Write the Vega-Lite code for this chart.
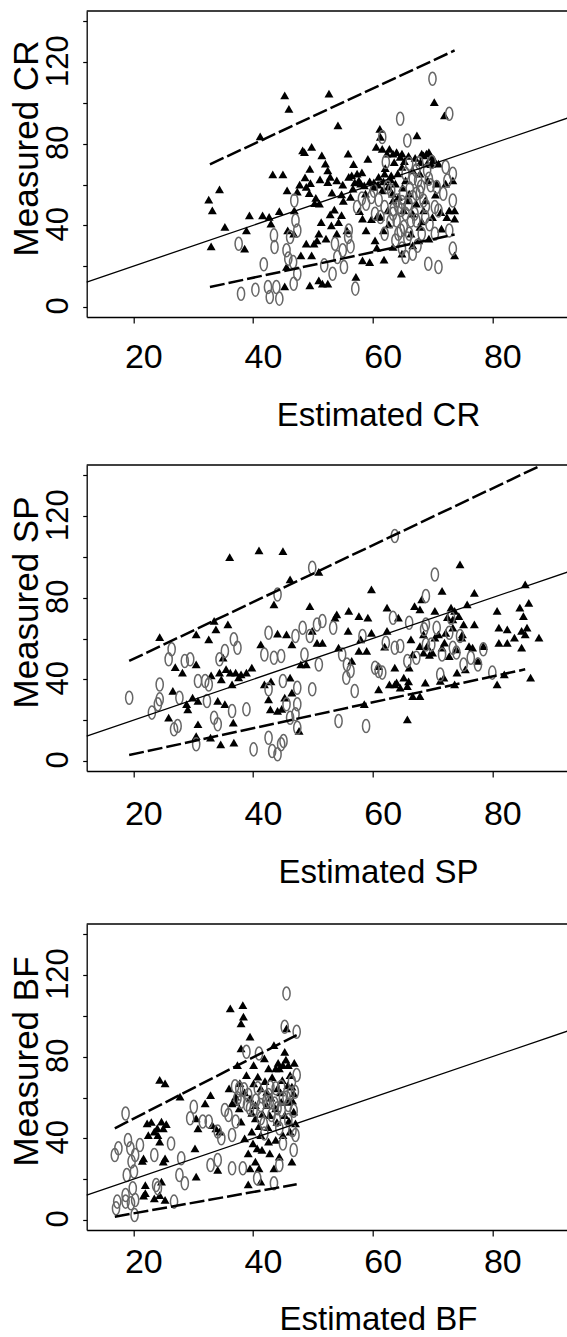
{
"$schema": "https://vega.github.io/schema/vega-lite/v6.json",
"padding": {"left": 8.7, "top": 10, "right": 0, "bottom": 0},
"background": "white",
"config": {
 "view": {"stroke": null},
 "axis": {"grid": false, "domainColor": "#000", "domainWidth": 1.3, "tickColor": "#000", "tickWidth": 1.2, "labelColor": "#000", "titleColor": "#000", "labelFont": "Liberation Sans", "titleFont": "Liberation Sans", "titleFontWeight": "normal", "labelOverlap": false, "labelFlush": false, "labelBound": false}
},
"datasets": {
 "crT": [{"x":32.6,"y":52.6},{"x":33.2,"y":47.3},{"x":34.4,"y":57.6},{"x":33.0,"y":29.7},{"x":35.3,"y":39.2},{"x":38.9,"y":37.5},{"x":38.6,"y":28.6},{"x":39.4,"y":44.9},{"x":41.6,"y":44.9},{"x":42.7,"y":44.1},{"x":43.3,"y":65.0},{"x":45.0,"y":65.0},{"x":44.4,"y":47.0},{"x":43.0,"y":40.8},{"x":45.3,"y":103.7},{"x":46.0,"y":97.1},{"x":41.2,"y":83.6},{"x":45.7,"y":57.1},{"x":45.8,"y":37.5},{"x":45.6,"y":19.6},{"x":45.3,"y":10.1},{"x":46.9,"y":47.3},{"x":48.3,"y":76.7},{"x":48.6,"y":75.9},{"x":49.8,"y":78.4},{"x":49.5,"y":67.7},{"x":47.8,"y":59.9},{"x":48.9,"y":58.8},{"x":49.4,"y":55.8},{"x":49.6,"y":60.7},{"x":50.3,"y":50.9},{"x":50.2,"y":31.0},{"x":49.8,"y":25.3},{"x":49.5,"y":10.6},{"x":50.7,"y":32.6},{"x":51.1,"y":50.6},{"x":51.4,"y":41.6},{"x":51.5,"y":74.3},{"x":52.1,"y":70.2},{"x":52.5,"y":66.9},{"x":52.7,"y":104.5},{"x":54.2,"y":89.0},{"x":52.9,"y":63.7},{"x":52.5,"y":61.2},{"x":53.6,"y":47.7},{"x":52.9,"y":45.4},{"x":53.1,"y":40.0},{"x":54.3,"y":41.6},{"x":54.8,"y":55.2},{"x":54.0,"y":62.0},{"x":55.9,"y":75.1},{"x":56.0,"y":63.7},{"x":56.3,"y":53.9},{"x":55.7,"y":37.5},{"x":57.4,"y":65.3},{"x":57.7,"y":62.0},{"x":58.6,"y":59.6},{"x":59.2,"y":72.6},{"x":58.9,"y":37.5},{"x":58.3,"y":22.9},{"x":59.5,"y":22.0},{"x":57.2,"y":14.7},{"x":58.3,"y":43.3},{"x":60.1,"y":58.8},{"x":60.6,"y":78.4},{"x":61.2,"y":87.3},{"x":61.3,"y":83.3},{"x":61.6,"y":77.5},{"x":61.0,"y":63.7},{"x":61.6,"y":57.1},{"x":62.0,"y":65.3},{"x":62.4,"y":75.1},{"x":62.8,"y":77.5},{"x":63.1,"y":64.5},{"x":63.3,"y":55.5},{"x":63.4,"y":75.1},{"x":64.0,"y":75.9},{"x":64.6,"y":73.5},{"x":64.9,"y":75.1},{"x":64.9,"y":68.6},{"x":61.3,"y":44.1},{"x":60.7,"y":44.1},{"x":61.8,"y":37.5},{"x":61.9,"y":23.2},{"x":60.7,"y":29.1},{"x":64.8,"y":16.3},{"x":62.5,"y":47.3},{"x":63.4,"y":52.2},{"x":65.5,"y":62.0},{"x":65.8,"y":52.2},{"x":66.7,"y":66.9},{"x":67.4,"y":84.1},{"x":68.2,"y":75.1},{"x":68.5,"y":74.3},{"x":69.0,"y":75.1},{"x":69.4,"y":75.9},{"x":69.8,"y":73.5},{"x":69.1,"y":70.2},{"x":70.3,"y":100.4},{"x":72.0,"y":93.9},{"x":71.0,"y":70.2},{"x":70.7,"y":60.4},{"x":72.2,"y":60.4},{"x":73.4,"y":62.0},{"x":72.8,"y":47.3},{"x":73.7,"y":47.3},{"x":73.7,"y":43.3},{"x":71.5,"y":38.4},{"x":68.5,"y":47.3},{"x":67.9,"y":39.2},{"x":67.3,"y":50.6},{"x":73.7,"y":25.3},{"x":69.4,"y":33.5},{"x":67.7,"y":32.6},{"x":66.7,"y":30.2},{"x":64.9,"y":26.1},{"x":63.4,"y":29.4},{"x":60.4,"y":32.6},{"x":51.0,"y":13.1},{"x":51.6,"y":11.4},{"x":52.5,"y":11.4},{"x":48.0,"y":25.3},{"x":48.9,"y":31.0},{"x":51.0,"y":35.9},{"x":52.2,"y":33.5},{"x":54.0,"y":35.9},{"x":56.7,"y":58.0},{"x":58.8,"y":55.5},{"x":64.3,"y":53.9},{"x":66.1,"y":55.5},{"x":65.2,"y":47.3},{"x":66.7,"y":45.7},{"x":67.9,"y":65.3},{"x":68.8,"y":52.2},{"x":46.8,"y":35.9},{"x":60.2,"y":61.0},{"x":60.9,"y":60.0},{"x":61.8,"y":61.5},{"x":62.6,"y":59.0},{"x":63.0,"y":62.5},{"x":63.8,"y":60.5},{"x":64.2,"y":65.5},{"x":65.0,"y":58.5},{"x":59.5,"y":61.5},{"x":58.0,"y":60.5},{"x":57.0,"y":61.0},{"x":56.5,"y":64.5},{"x":62.1,"y":68.0},{"x":63.6,"y":71.0},{"x":65.3,"y":71.5},{"x":66.0,"y":74.0},{"x":67.1,"y":73.0},{"x":68.0,"y":71.0},{"x":69.8,"y":70.0},{"x":70.2,"y":72.5},{"x":69.2,"y":62.0},{"x":70.5,"y":55.0},{"x":71.4,"y":46.5},{"x":72.4,"y":44.0},{"x":70.0,"y":44.0},{"x":68.2,"y":42.0},{"x":66.4,"y":36.0},{"x":62.7,"y":40.5},{"x":59.8,"y":43.0},{"x":57.8,"y":47.0},{"x":55.1,"y":52.0},{"x":53.2,"y":56.0},{"x":50.5,"y":53.5},{"x":47.4,"y":56.5},{"x":48.7,"y":63.5},{"x":51.2,"y":62.5},{"x":55.0,"y":60.0},{"x":58.2,"y":66.0},{"x":56.8,"y":70.0},{"x":54.8,"y":45.0}],
 "crC": [{"x":38.0,"y":6.5},{"x":37.6,"y":31.0},{"x":40.4,"y":8.5},{"x":41.8,"y":20.9},{"x":42.5,"y":9.8},{"x":42.8,"y":4.9},{"x":43.9,"y":9.8},{"x":44.4,"y":4.1},{"x":43.5,"y":35.1},{"x":43.6,"y":29.4},{"x":45.6,"y":27.8},{"x":45.9,"y":23.7},{"x":46.2,"y":34.3},{"x":46.9,"y":52.2},{"x":47.1,"y":42.4},{"x":47.4,"y":37.5},{"x":46.7,"y":22.0},{"x":47.4,"y":16.3},{"x":46.8,"y":11.4},{"x":51.9,"y":20.4},{"x":53.7,"y":31.0},{"x":53.3,"y":16.3},{"x":55.0,"y":27.8},{"x":55.2,"y":19.6},{"x":56.0,"y":37.5},{"x":56.3,"y":29.7},{"x":57.1,"y":9.0},{"x":58.2,"y":53.1},{"x":59.8,"y":53.9},{"x":58.9,"y":50.6},{"x":60.4,"y":45.7},{"x":61.3,"y":44.1},{"x":62.2,"y":71.0},{"x":61.6,"y":83.3},{"x":63.4,"y":45.7},{"x":64.3,"y":49.0},{"x":64.0,"y":42.4},{"x":64.9,"y":51.4},{"x":64.6,"y":92.2},{"x":65.8,"y":81.6},{"x":65.5,"y":65.3},{"x":66.1,"y":70.2},{"x":65.2,"y":39.2},{"x":64.9,"y":28.6},{"x":65.5,"y":24.5},{"x":66.7,"y":26.1},{"x":66.1,"y":35.9},{"x":66.7,"y":53.9},{"x":67.0,"y":45.7},{"x":67.6,"y":62.0},{"x":67.9,"y":56.3},{"x":68.5,"y":52.2},{"x":68.8,"y":44.1},{"x":69.1,"y":66.9},{"x":68.2,"y":35.9},{"x":69.3,"y":21.2},{"x":71.0,"y":19.6},{"x":70.0,"y":111.8},{"x":72.8,"y":94.7},{"x":72.2,"y":68.6},{"x":70.7,"y":58.8},{"x":70.4,"y":49.0},{"x":71.0,"y":47.3},{"x":73.4,"y":65.3},{"x":73.4,"y":52.2},{"x":72.8,"y":37.5},{"x":73.4,"y":28.6},{"x":62.5,"y":58.8},{"x":63.1,"y":57.1},{"x":64.0,"y":52.2},{"x":66.7,"y":63.0},{"x":67.3,"y":66.9},{"x":69.4,"y":62.8},{"x":69.7,"y":59.6},{"x":64.3,"y":35.9},{"x":65.5,"y":45.7},{"x":66.4,"y":42.4},{"x":67.3,"y":42.4},{"x":62.0,"y":35.9},{"x":63.8,"y":32.6},{"x":64.7,"y":37.5},{"x":70.4,"y":35.9},{"x":55.9,"y":34.3},{"x":54.1,"y":24.5},{"x":63.5,"y":48.0},{"x":64.8,"y":47.5},{"x":66.0,"y":50.5},{"x":67.3,"y":55.5},{"x":68.1,"y":59.0},{"x":68.9,"y":49.5},{"x":65.1,"y":56.0},{"x":66.2,"y":58.0},{"x":63.0,"y":42.0},{"x":62.0,"y":49.0},{"x":61.0,"y":52.5},{"x":69.5,"y":40.5},{"x":71.8,"y":55.5},{"x":72.5,"y":62.0},{"x":65.8,"y":33.5},{"x":67.5,"y":30.0},{"x":60.2,"y":57.0},{"x":57.4,"y":49.0},{"x":67.8,"y":70.5},{"x":69.9,"y":71.0}],
 "spT": [{"x":24.4,"y":60.7},{"x":25.9,"y":21.2},{"x":26.6,"y":34.3},{"x":27.0,"y":46.0},{"x":28.2,"y":43.3},{"x":28.9,"y":27.8},{"x":29.1,"y":25.3},{"x":29.9,"y":31.0},{"x":30.5,"y":47.3},{"x":30.8,"y":29.4},{"x":30.5,"y":12.2},{"x":30.8,"y":18.0},{"x":30.5,"y":62.0},{"x":32.6,"y":59.6},{"x":32.9,"y":11.4},{"x":33.5,"y":68.6},{"x":33.8,"y":64.5},{"x":34.1,"y":29.4},{"x":34.4,"y":43.3},{"x":34.7,"y":40.0},{"x":35.0,"y":50.6},{"x":35.3,"y":27.8},{"x":34.6,"y":8.2},{"x":35.8,"y":66.9},{"x":36.1,"y":99.9},{"x":36.2,"y":43.3},{"x":36.5,"y":37.5},{"x":36.7,"y":18.8},{"x":36.8,"y":9.0},{"x":37.1,"y":43.3},{"x":38.0,"y":42.4},{"x":38.9,"y":43.3},{"x":39.8,"y":45.7},{"x":41.0,"y":103.2},{"x":41.3,"y":57.1},{"x":41.9,"y":37.5},{"x":42.6,"y":30.2},{"x":42.9,"y":25.3},{"x":43.5,"y":76.7},{"x":44.1,"y":62.4},{"x":44.1,"y":24.5},{"x":45.0,"y":102.8},{"x":45.6,"y":62.0},{"x":46.2,"y":89.0},{"x":46.5,"y":57.1},{"x":46.2,"y":40.8},{"x":46.5,"y":33.5},{"x":47.7,"y":14.7},{"x":48.0,"y":47.3},{"x":48.9,"y":47.3},{"x":49.5,"y":75.9},{"x":49.9,"y":63.7},{"x":51.0,"y":92.7},{"x":50.7,"y":57.9},{"x":51.6,"y":57.9},{"x":54.0,"y":71.8},{"x":53.7,"y":70.2},{"x":54.3,"y":55.5},{"x":56.0,"y":73.5},{"x":55.9,"y":63.7},{"x":56.5,"y":49.0},{"x":57.7,"y":71.0},{"x":57.7,"y":53.9},{"x":58.0,"y":59.6},{"x":58.6,"y":27.8},{"x":59.2,"y":70.2},{"x":59.0,"y":53.9},{"x":59.8,"y":62.8},{"x":59.8,"y":84.1},{"x":61.0,"y":46.5},{"x":61.0,"y":35.1},{"x":62.4,"y":75.1},{"x":62.4,"y":63.7},{"x":62.8,"y":37.5},{"x":63.7,"y":45.7},{"x":63.7,"y":37.5},{"x":64.3,"y":70.2},{"x":64.6,"y":35.9},{"x":65.2,"y":40.8},{"x":65.8,"y":20.4},{"x":65.8,"y":36.7},{"x":66.1,"y":45.7},{"x":66.4,"y":59.6},{"x":66.7,"y":52.2},{"x":66.7,"y":31.8},{"x":67.0,"y":75.9},{"x":67.9,"y":56.3},{"x":67.9,"y":31.8},{"x":68.2,"y":79.2},{"x":68.5,"y":53.1},{"x":68.8,"y":38.4},{"x":69.1,"y":56.3},{"x":70.0,"y":53.1},{"x":70.4,"y":60.4},{"x":71.0,"y":62.0},{"x":71.6,"y":83.3},{"x":71.6,"y":55.5},{"x":71.9,"y":40.8},{"x":72.2,"y":62.8},{"x":72.8,"y":51.4},{"x":73.1,"y":75.1},{"x":73.4,"y":65.3},{"x":73.7,"y":73.5},{"x":74.0,"y":54.7},{"x":74.1,"y":43.3},{"x":74.6,"y":96.3},{"x":74.9,"y":60.4},{"x":75.2,"y":66.9},{"x":75.5,"y":44.9},{"x":75.8,"y":76.7},{"x":76.1,"y":56.3},{"x":77.0,"y":82.4},{"x":77.0,"y":66.9},{"x":76.7,"y":55.5},{"x":77.6,"y":49.0},{"x":78.5,"y":56.3},{"x":80.8,"y":73.5},{"x":80.8,"y":37.5},{"x":81.1,"y":65.3},{"x":81.1,"y":57.9},{"x":82.0,"y":42.4},{"x":82.5,"y":64.5},{"x":82.5,"y":57.9},{"x":84.6,"y":75.1},{"x":84.9,"y":63.7},{"x":84.9,"y":55.5},{"x":85.2,"y":71.0},{"x":85.5,"y":86.5},{"x":85.8,"y":65.3},{"x":86.1,"y":77.5},{"x":86.4,"y":40.8},{"x":87.8,"y":60.4},{"x":85.5,"y":62.0},{"x":83.7,"y":60.4},{"x":73.7,"y":37.5},{"x":71.3,"y":39.2},{"x":68.5,"y":62.0},{"x":70.4,"y":73.5},{"x":73.4,"y":69.4},{"x":67.9,"y":74.3},{"x":72.5,"y":70.5},{"x":74.4,"y":71.0},{"x":75.0,"y":62.0},{"x":72.0,"y":58.0},{"x":69.5,"y":52.0},{"x":33.0,"y":42.0},{"x":35.5,"y":45.0},{"x":37.6,"y":41.0},{"x":44.8,"y":25.5},{"x":45.3,"y":31.0},{"x":43.0,"y":39.0},{"x":64.0,"y":38.5},{"x":66.0,"y":39.0},{"x":62.0,"y":56.0}],
 "spC": [{"x":19.3,"y":31.0},{"x":23.1,"y":23.7},{"x":24.4,"y":37.5},{"x":24.4,"y":30.2},{"x":25.9,"y":49.8},{"x":26.4,"y":54.7},{"x":26.8,"y":15.5},{"x":27.4,"y":17.1},{"x":27.7,"y":31.0},{"x":28.6,"y":49.0},{"x":29.5,"y":49.8},{"x":30.5,"y":8.2},{"x":30.8,"y":39.2},{"x":32.0,"y":39.2},{"x":32.6,"y":37.5},{"x":32.3,"y":29.4},{"x":33.5,"y":21.2},{"x":34.1,"y":18.0},{"x":34.4,"y":49.8},{"x":35.3,"y":53.9},{"x":36.8,"y":59.6},{"x":37.4,"y":55.5},{"x":36.5,"y":24.5},{"x":38.9,"y":25.3},{"x":40.1,"y":5.7},{"x":42.6,"y":62.8},{"x":41.9,"y":52.2},{"x":42.6,"y":35.1},{"x":42.6,"y":11.4},{"x":43.2,"y":4.9},{"x":44.1,"y":3.3},{"x":44.7,"y":8.2},{"x":45.1,"y":9.8},{"x":45.0,"y":39.2},{"x":44.7,"y":51.4},{"x":44.1,"y":81.6},{"x":45.6,"y":27.8},{"x":46.2,"y":21.2},{"x":47.1,"y":61.2},{"x":47.4,"y":35.9},{"x":47.4,"y":27.8},{"x":47.4,"y":16.3},{"x":48.3,"y":65.3},{"x":48.6,"y":52.2},{"x":49.5,"y":61.2},{"x":49.9,"y":94.7},{"x":49.9,"y":35.1},{"x":50.7,"y":66.9},{"x":51.0,"y":47.3},{"x":51.6,"y":68.6},{"x":53.4,"y":65.3},{"x":54.3,"y":19.6},{"x":54.9,"y":52.2},{"x":55.6,"y":40.8},{"x":56.3,"y":44.1},{"x":57.0,"y":34.3},{"x":58.9,"y":17.1},{"x":60.4,"y":45.7},{"x":61.0,"y":44.1},{"x":61.6,"y":43.3},{"x":62.2,"y":57.9},{"x":63.4,"y":70.2},{"x":63.7,"y":110.2},{"x":63.7,"y":55.5},{"x":64.6,"y":56.3},{"x":65.8,"y":49.0},{"x":66.1,"y":67.7},{"x":68.6,"y":64.5},{"x":68.9,"y":80.8},{"x":70.4,"y":91.4},{"x":68.9,"y":57.1},{"x":69.8,"y":57.1},{"x":70.7,"y":65.3},{"x":71.3,"y":42.4},{"x":72.8,"y":62.8},{"x":73.4,"y":55.5},{"x":74.0,"y":53.1},{"x":74.6,"y":61.2},{"x":75.2,"y":47.3},{"x":76.4,"y":50.6},{"x":77.6,"y":47.3},{"x":78.5,"y":54.7},{"x":80.0,"y":43.3},{"x":73.1,"y":70.2},{"x":68.9,"y":66.9},{"x":71.6,"y":52.2},{"x":67.3,"y":50.6},{"x":58.3,"y":61.2},{"x":55.7,"y":47.3},{"x":24.1,"y":27.8},{"x":47.1,"y":22.9},{"x":43.5,"y":50.6}],
 "bfT": [{"x":22.3,"y":47.3},{"x":22.5,"y":41.6},{"x":21.7,"y":30.2},{"x":22.0,"y":17.1},{"x":22.0,"y":13.1},{"x":21.7,"y":11.9},{"x":24.4,"y":68.6},{"x":25.3,"y":66.9},{"x":23.5,"y":43.3},{"x":24.1,"y":41.6},{"x":24.7,"y":48.2},{"x":25.0,"y":44.9},{"x":24.4,"y":38.4},{"x":25.0,"y":28.6},{"x":25.3,"y":30.2},{"x":24.7,"y":18.8},{"x":24.4,"y":12.2},{"x":23.5,"y":10.6},{"x":25.3,"y":9.8},{"x":27.8,"y":60.4},{"x":30.5,"y":21.2},{"x":30.3,"y":35.1},{"x":30.5,"y":49.8},{"x":30.8,"y":44.9},{"x":32.0,"y":57.1},{"x":32.9,"y":61.2},{"x":33.2,"y":46.5},{"x":33.8,"y":44.9},{"x":34.1,"y":24.5},{"x":34.4,"y":43.3},{"x":36.0,"y":64.5},{"x":36.2,"y":103.7},{"x":36.5,"y":57.1},{"x":37.1,"y":60.4},{"x":37.4,"y":75.9},{"x":38.0,"y":96.3},{"x":38.3,"y":105.3},{"x":38.4,"y":99.6},{"x":39.5,"y":89.8},{"x":38.0,"y":84.1},{"x":37.7,"y":54.7},{"x":38.0,"y":48.2},{"x":38.6,"y":40.0},{"x":39.2,"y":32.6},{"x":39.5,"y":25.3},{"x":39.2,"y":17.5},{"x":39.8,"y":43.3},{"x":40.1,"y":66.9},{"x":40.4,"y":56.3},{"x":40.7,"y":35.1},{"x":41.0,"y":25.3},{"x":41.3,"y":18.8},{"x":41.5,"y":34.3},{"x":41.9,"y":79.2},{"x":42.3,"y":62.8},{"x":42.6,"y":74.3},{"x":42.8,"y":51.4},{"x":42.8,"y":32.6},{"x":43.5,"y":85.7},{"x":43.8,"y":74.3},{"x":44.1,"y":64.5},{"x":44.4,"y":74.3},{"x":44.7,"y":57.9},{"x":45.0,"y":75.9},{"x":45.3,"y":82.4},{"x":45.6,"y":93.9},{"x":45.9,"y":75.9},{"x":46.2,"y":71.0},{"x":46.5,"y":65.3},{"x":46.8,"y":53.1},{"x":47.1,"y":47.3},{"x":46.5,"y":28.6},{"x":46.2,"y":43.3},{"x":43.8,"y":39.2},{"x":42.6,"y":38.4},{"x":41.3,"y":41.6},{"x":40.4,"y":49.8},{"x":39.5,"y":59.6},{"x":38.9,"y":71.0},{"x":40.1,"y":75.9},{"x":40.8,"y":70.2},{"x":42.3,"y":56.3},{"x":43.8,"y":54.7},{"x":45.3,"y":51.4},{"x":45.0,"y":41.6},{"x":44.4,"y":31.0},{"x":43.5,"y":25.3},{"x":40.4,"y":28.6},{"x":41.3,"y":64.5},{"x":45.9,"y":57.9},{"x":46.8,"y":62.0},{"x":37.1,"y":57.9},{"x":42.0,"y":68.0},{"x":43.2,"y":70.0},{"x":44.9,"y":68.5},{"x":45.8,"y":66.0},{"x":46.6,"y":58.5},{"x":44.0,"y":48.0},{"x":42.5,"y":45.5},{"x":41.0,"y":46.0},{"x":39.8,"y":52.5},{"x":38.6,"y":62.5},{"x":37.8,"y":67.0},{"x":43.0,"y":60.0},{"x":44.6,"y":62.5},{"x":46.0,"y":48.5},{"x":46.9,"y":77.0},{"x":45.5,"y":78.5},{"x":44.2,"y":77.0},{"x":41.6,"y":52.0},{"x":40.0,"y":37.5},{"x":23.0,"y":48.0},{"x":24.0,"y":45.0},{"x":25.5,"y":47.0},{"x":21.5,"y":29.0}],
 "bfC": [{"x":16.9,"y":31.8},{"x":17.5,"y":35.1},{"x":17.3,"y":9.0},{"x":17.1,"y":5.7},{"x":18.7,"y":52.2},{"x":18.7,"y":12.2},{"x":18.9,"y":22.0},{"x":19.1,"y":39.2},{"x":19.5,"y":35.1},{"x":19.6,"y":8.2},{"x":19.7,"y":28.6},{"x":19.9,"y":15.5},{"x":20.1,"y":23.7},{"x":20.2,"y":2.4},{"x":20.3,"y":9.8},{"x":21.1,"y":36.7},{"x":23.5,"y":31.8},{"x":23.8,"y":17.1},{"x":24.1,"y":15.5},{"x":26.3,"y":37.5},{"x":26.8,"y":9.0},{"x":27.7,"y":22.0},{"x":28.0,"y":30.2},{"x":28.6,"y":18.0},{"x":29.5,"y":49.8},{"x":30.1,"y":55.5},{"x":31.6,"y":48.2},{"x":32.6,"y":48.2},{"x":32.9,"y":26.9},{"x":34.1,"y":29.4},{"x":34.7,"y":40.0},{"x":35.3,"y":53.9},{"x":35.9,"y":51.4},{"x":36.5,"y":25.3},{"x":37.1,"y":48.2},{"x":37.7,"y":64.5},{"x":38.0,"y":57.9},{"x":38.3,"y":25.3},{"x":38.9,"y":82.4},{"x":39.2,"y":61.2},{"x":39.5,"y":54.7},{"x":40.1,"y":53.9},{"x":40.7,"y":20.4},{"x":41.0,"y":81.6},{"x":40.8,"y":64.5},{"x":41.3,"y":49.8},{"x":41.8,"y":47.3},{"x":42.6,"y":61.2},{"x":42.8,"y":57.9},{"x":43.5,"y":18.0},{"x":43.8,"y":64.5},{"x":44.1,"y":54.7},{"x":44.4,"y":26.9},{"x":44.7,"y":65.3},{"x":45.0,"y":59.6},{"x":45.3,"y":94.7},{"x":45.6,"y":111.0},{"x":45.9,"y":56.3},{"x":45.9,"y":49.0},{"x":46.5,"y":67.7},{"x":46.8,"y":34.3},{"x":47.1,"y":41.6},{"x":47.3,"y":92.2},{"x":47.3,"y":71.0},{"x":47.0,"y":62.8},{"x":41.9,"y":42.4},{"x":43.1,"y":51.4},{"x":44.4,"y":44.9},{"x":36.5,"y":41.6},{"x":37.4,"y":59.6},{"x":41.3,"y":56.3},{"x":34.1,"y":43.3},{"x":18.7,"y":9.0},{"x":20.3,"y":31.8},{"x":42.2,"y":58.0},{"x":43.6,"y":57.0},{"x":44.8,"y":54.0},{"x":45.6,"y":60.0},{"x":46.3,"y":62.0},{"x":42.9,"y":65.0},{"x":41.5,"y":60.5},{"x":40.5,"y":58.5},{"x":39.0,"y":56.5},{"x":44.0,"y":49.0},{"x":46.6,"y":44.0},{"x":46.8,"y":53.5},{"x":38.5,"y":64.0},{"x":37.0,"y":65.5},{"x":45.0,"y":37.5}],
 "lines": [
  {"p":"CR","k":"fit","x":12.2,"y":12.2},{"p":"CR","k":"fit","x":92.6,"y":92.6},
  {"p":"CR","k":"upper","x":32.8,"y":69.9},{"p":"CR","k":"upper","x":73.7,"y":125.7},
  {"p":"CR","k":"lower","x":32.8,"y":9.8},{"p":"CR","k":"lower","x":73.7,"y":35.5},
  {"p":"SP","k":"fit","x":12.2,"y":12.2},{"p":"SP","k":"fit","x":92.6,"y":92.6},
  {"p":"SP","k":"upper","x":19.3,"y":49.0},{"p":"SP","k":"upper","x":87.9,"y":144.5},
  {"p":"SP","k":"lower","x":19.3,"y":2.9},{"p":"SP","k":"lower","x":85.5,"y":44.9},
  {"p":"BF","k":"fit","x":12.2,"y":12.2},{"p":"BF","k":"fit","x":92.6,"y":92.6},
  {"p":"BF","k":"upper","x":16.9,"y":44.9},{"p":"BF","k":"upper","x":47.3,"y":90.6},
  {"p":"BF","k":"lower","x":16.9,"y":1.6},{"p":"BF","k":"lower","x":47.3,"y":17.5}
 ],
 "frame": [{"x0":12.2,"x1":92.6,"top":145}]
},
"bounds": "flush",
"spacing": 0,
"vconcat": [
 {"width":481,"height":306,"layer":[
  {"data":{"name":"crT"},"mark":{"type":"point","shape":"triangle-up","filled":true,"color":"#000","size":80,"opacity":1},
   "encoding":{
    "x":{"field":"x","type":"quantitative","scale":{"domain":[12.2,92.6],"nice":false,"zero":false},"axis":{"title":"Estimated CR","values":[20,40,60,80],"tickSize":6,"labelFontSize":34,"labelPadding":44,"labelBaseline":"alphabetic","labelOffset":10,"titleFontSize":33,"titleBaseline":"alphabetic","titleY":108.5,"titleX":291.3,"titleAlign":"center"}},
    "y":{"field":"y","type":"quantitative","scale":{"domain":[-4.9,145],"nice":false,"zero":false},"axis":{"title":"Measured CR","values":[0,20,40,60,80,100,120,140],"labelExpr":"datum.value % 40 == 0 && datum.value <= 120 ? datum.label : ''","tickSize":4,"labelAngle":-90,"labelAlign":"center","labelBaseline":"alphabetic","labelPadding":15.3,"labelFontSize":31,"labelOffset":-1.5,"titleFontSize":35,"titleAngle":270,"titleBaseline":"alphabetic","titleX":-49.3,"titleY":137,"titleAlign":"center"}}}},
  {"data":{"name":"crC"},"mark":{"type":"point","shape":"M0,-1C0.304,-1,0.55,-0.552,0.55,0C0.55,0.552,0.304,1,0,1C-0.304,1,-0.55,0.552,-0.55,0C-0.55,-0.552,-0.304,-1,0,-1Z","filled":false,"stroke":"#666666","strokeWidth":1.5,"size":170,"opacity":1},
   "encoding":{"x":{"field":"x","type":"quantitative"},"y":{"field":"y","type":"quantitative"}}},
  {"data":{"name":"lines"},"transform":[{"filter":"datum.p == 'CR' && datum.k == 'fit'"}],"mark":{"type":"line","color":"#000","strokeWidth":1.3},
   "encoding":{"x":{"field":"x","type":"quantitative"},"y":{"field":"y","type":"quantitative"}}},
  {"data":{"name":"lines"},"transform":[{"filter":"datum.p == 'CR' && datum.k != 'fit'"}],"mark":{"type":"line","color":"#000","strokeWidth":2.5,"strokeDash":[15,4]},
   "encoding":{"x":{"field":"x","type":"quantitative"},"y":{"field":"y","type":"quantitative"},"detail":{"field":"k"}}},
  {"data":{"name":"frame"},"mark":{"type":"rule","color":"#000","strokeWidth":1.3},
   "encoding":{"x":{"field":"x0","type":"quantitative"},"x2":{"field":"x1"},"y":{"field":"top","type":"quantitative"}}}
 ]},
 {"width":481,"height":147.3,"data":{"values":[]},"mark":"point"},
 {"width":481,"height":306,"layer":[
  {"data":{"name":"spT"},"mark":{"type":"point","shape":"triangle-up","filled":true,"color":"#000","size":80,"opacity":1},
   "encoding":{
    "x":{"field":"x","type":"quantitative","scale":{"domain":[12.2,92.6],"nice":false,"zero":false},"axis":{"title":"Estimated SP","values":[20,40,60,80],"tickSize":6,"labelFontSize":34,"labelPadding":48,"labelBaseline":"alphabetic","labelOffset":10,"titleFontSize":33,"titleBaseline":"alphabetic","titleY":112,"titleX":291.3,"titleAlign":"center"}},
    "y":{"field":"y","type":"quantitative","scale":{"domain":[-4.9,145],"nice":false,"zero":false},"axis":{"title":"Measured SP","values":[0,20,40,60,80,100,120,140],"labelExpr":"datum.value % 40 == 0 && datum.value <= 120 ? datum.label : ''","tickSize":4,"labelAngle":-90,"labelAlign":"center","labelBaseline":"alphabetic","labelPadding":15.3,"labelFontSize":31,"labelOffset":-1.5,"titleFontSize":35,"titleAngle":270,"titleBaseline":"alphabetic","titleX":-49.3,"titleY":137,"titleAlign":"center"}}}},
  {"data":{"name":"spC"},"mark":{"type":"point","shape":"M0,-1C0.304,-1,0.55,-0.552,0.55,0C0.55,0.552,0.304,1,0,1C-0.304,1,-0.55,0.552,-0.55,0C-0.55,-0.552,-0.304,-1,0,-1Z","filled":false,"stroke":"#666666","strokeWidth":1.5,"size":170,"opacity":1},
   "encoding":{"x":{"field":"x","type":"quantitative"},"y":{"field":"y","type":"quantitative"}}},
  {"data":{"name":"lines"},"transform":[{"filter":"datum.p == 'SP' && datum.k == 'fit'"}],"mark":{"type":"line","color":"#000","strokeWidth":1.3},
   "encoding":{"x":{"field":"x","type":"quantitative"},"y":{"field":"y","type":"quantitative"}}},
  {"data":{"name":"lines"},"transform":[{"filter":"datum.p == 'SP' && datum.k != 'fit'"}],"mark":{"type":"line","color":"#000","strokeWidth":2.5,"strokeDash":[15,4]},
   "encoding":{"x":{"field":"x","type":"quantitative"},"y":{"field":"y","type":"quantitative"},"detail":{"field":"k"}}},
  {"data":{"name":"frame"},"mark":{"type":"rule","color":"#000","strokeWidth":1.3},
   "encoding":{"x":{"field":"x0","type":"quantitative"},"x2":{"field":"x1"},"y":{"field":"top","type":"quantitative"}}}
 ]},
 {"width":481,"height":152.7,"data":{"values":[]},"mark":"point"},
 {"width":481,"height":306,"layer":[
  {"data":{"name":"bfT"},"mark":{"type":"point","shape":"triangle-up","filled":true,"color":"#000","size":80,"opacity":1},
   "encoding":{
    "x":{"field":"x","type":"quantitative","scale":{"domain":[12.2,92.6],"nice":false,"zero":false},"axis":{"title":"Estimated BF","values":[20,40,60,80],"tickSize":6,"labelFontSize":34,"labelPadding":37,"labelBaseline":"alphabetic","labelOffset":10,"titleFontSize":33,"titleBaseline":"alphabetic","titleY":100,"titleX":291.3,"titleAlign":"center"}},
    "y":{"field":"y","type":"quantitative","scale":{"domain":[-4.9,145],"nice":false,"zero":false},"axis":{"title":"Measured BF","values":[0,20,40,60,80,100,120,140],"labelExpr":"datum.value % 40 == 0 && datum.value <= 120 ? datum.label : ''","tickSize":4,"labelAngle":-90,"labelAlign":"center","labelBaseline":"alphabetic","labelPadding":15.3,"labelFontSize":31,"labelOffset":-1.5,"titleFontSize":35,"titleAngle":270,"titleBaseline":"alphabetic","titleX":-49.3,"titleY":137,"titleAlign":"center"}}}},
  {"data":{"name":"bfC"},"mark":{"type":"point","shape":"M0,-1C0.304,-1,0.55,-0.552,0.55,0C0.55,0.552,0.304,1,0,1C-0.304,1,-0.55,0.552,-0.55,0C-0.55,-0.552,-0.304,-1,0,-1Z","filled":false,"stroke":"#666666","strokeWidth":1.5,"size":170,"opacity":1},
   "encoding":{"x":{"field":"x","type":"quantitative"},"y":{"field":"y","type":"quantitative"}}},
  {"data":{"name":"lines"},"transform":[{"filter":"datum.p == 'BF' && datum.k == 'fit'"}],"mark":{"type":"line","color":"#000","strokeWidth":1.3},
   "encoding":{"x":{"field":"x","type":"quantitative"},"y":{"field":"y","type":"quantitative"}}},
  {"data":{"name":"lines"},"transform":[{"filter":"datum.p == 'BF' && datum.k != 'fit'"}],"mark":{"type":"line","color":"#000","strokeWidth":2.5,"strokeDash":[15,4]},
   "encoding":{"x":{"field":"x","type":"quantitative"},"y":{"field":"y","type":"quantitative"},"detail":{"field":"k"}}},
  {"data":{"name":"frame"},"mark":{"type":"rule","color":"#000","strokeWidth":1.3},
   "encoding":{"x":{"field":"x0","type":"quantitative"},"x2":{"field":"x1"},"y":{"field":"top","type":"quantitative"}}}
 ]}
]
}
